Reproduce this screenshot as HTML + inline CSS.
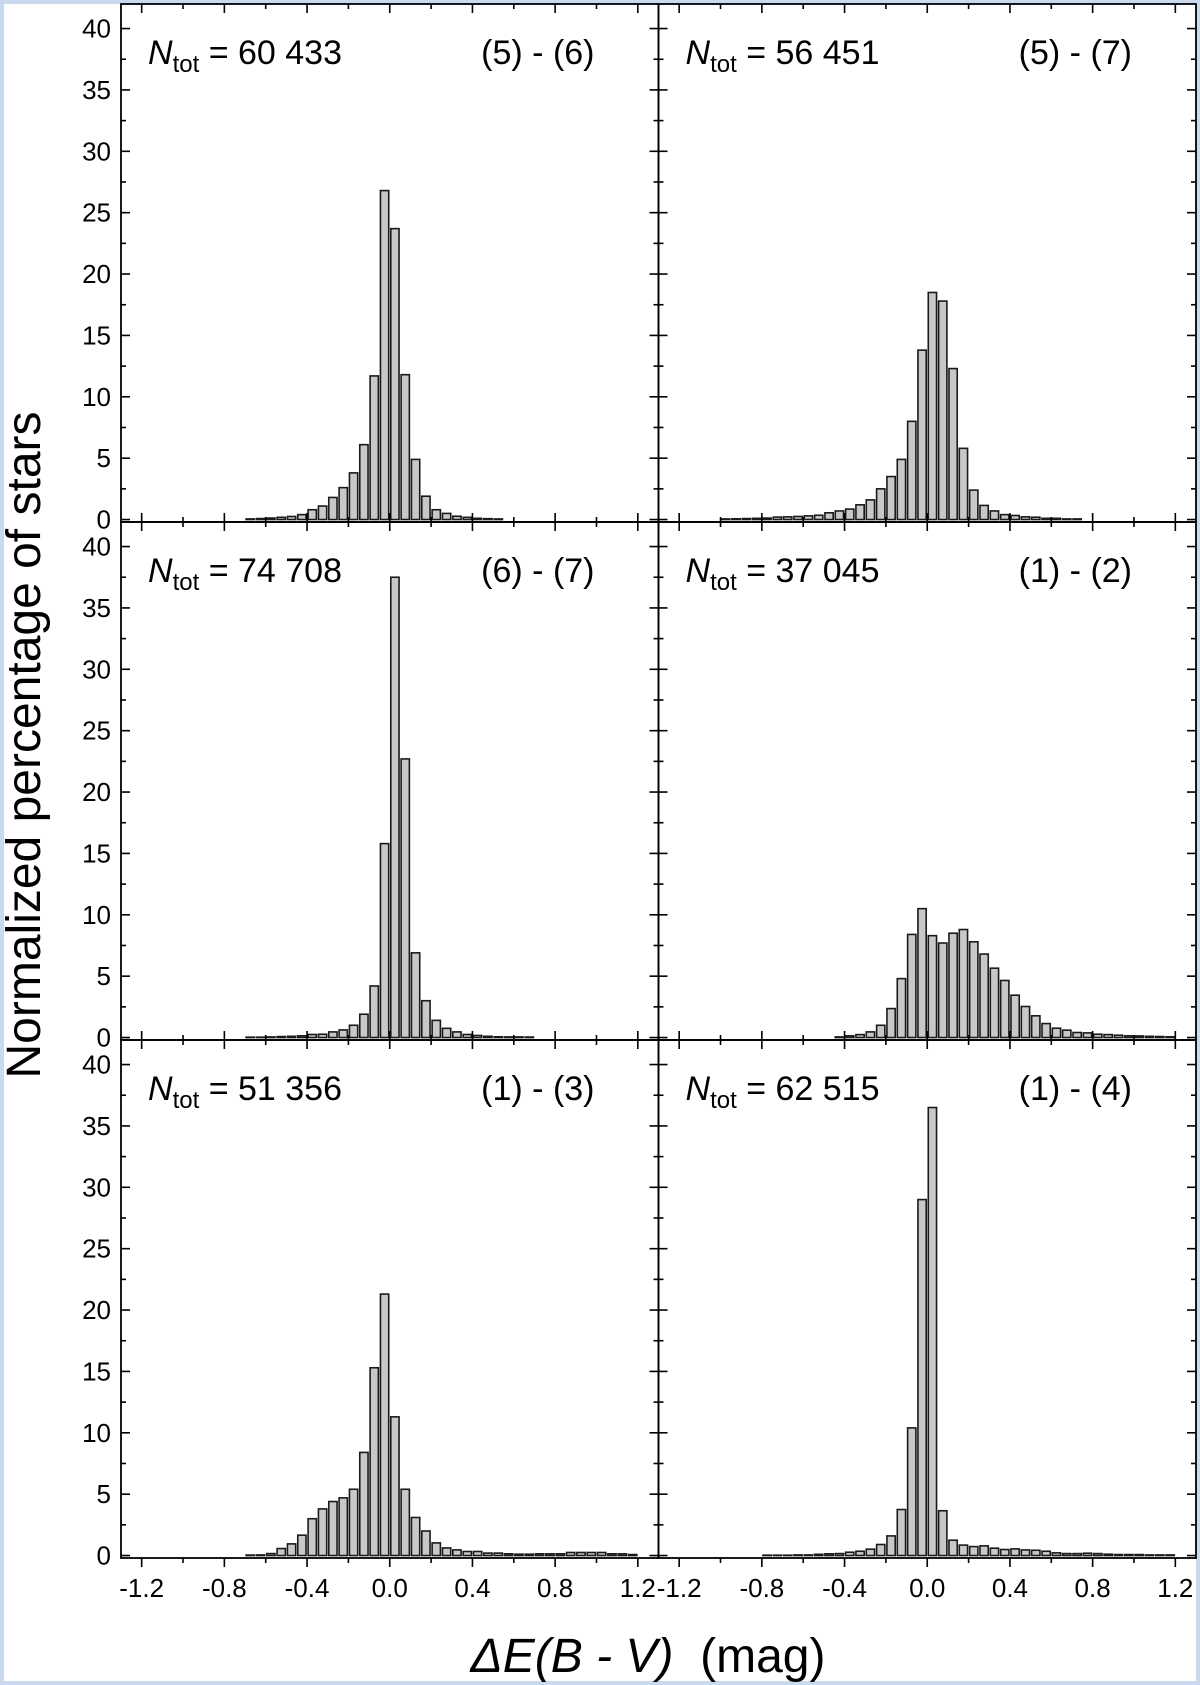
<!DOCTYPE html>
<html><head><meta charset="utf-8"><style>
html,body{margin:0;padding:0;background:#fff}
svg{display:block}
text{font-family:"Liberation Sans",Arial,sans-serif;fill:#000}
</style></head><body>
<svg id="chart" width="1200" height="1685" viewBox="0 0 1200 1685" xmlns="http://www.w3.org/2000/svg">
<rect x="0" y="0" width="1200" height="1685" fill="#fff"/>
<rect x="2" y="2" width="1196" height="1681" fill="none" stroke="#c9d9ef" stroke-width="4"/>
<g id="plots"></g>
<text x="40" y="745" font-size="48" text-anchor="middle" transform="rotate(-90 40 745)">Normalized percentage of stars</text>
<text x="648" y="1672" font-size="48" text-anchor="middle" style="white-space:pre"><tspan font-style="italic">ΔE(B - V)</tspan>  (mag)</text>
</svg>
<script>
const binWidth = 0.05;
const xTickLabels = ["-1.2","-0.8","-0.4","0.0","0.4","0.8","1.2"];
const yTickLabels = ["0","5","10","15","20","25","30","35","40"];
const panelNames = ["(5) - (6)","(5) - (7)","(6) - (7)","(1) - (2)","(1) - (3)","(1) - (4)"];
const panelTotals = ["60 433","56 451","74 708","37 045","51 356","62 515"];
const panelStarts = [-0.675,-0.975,-0.675,-0.425,-0.675,-0.775];
const values56 = [0.05,0.08,0.12,0.18,0.25,0.4,0.8,1.1,1.8,2.6,3.8,6.1,11.7,26.8,23.7,11.8,4.9,1.9,0.8,0.5,0.27,0.18,0.1,0.07,0.05];
const values57 = [0.05,0.06,0.08,0.1,0.12,0.2,0.22,0.25,0.3,0.35,0.55,0.7,0.85,1.2,1.6,2.5,3.5,4.9,8.0,13.8,18.5,17.8,12.3,5.8,2.4,1.15,0.7,0.4,0.33,0.22,0.19,0.1,0.1,0.05,0.05];
const values67 = [0.03,0.03,0.05,0.08,0.1,0.14,0.25,0.27,0.46,0.62,1.0,1.9,4.2,15.8,37.5,22.7,6.9,3.0,1.4,0.75,0.46,0.25,0.17,0.1,0.06,0.05,0.05,0.04];
const values12 = [0.05,0.14,0.24,0.46,1.0,2.36,4.8,8.4,10.5,8.3,7.7,8.5,8.8,7.8,6.8,5.65,4.65,3.45,2.53,1.77,1.14,0.76,0.6,0.41,0.38,0.27,0.24,0.19,0.14,0.13,0.1,0.08,0.06];
const values13 = [0.04,0.05,0.16,0.57,0.95,1.66,3.0,3.8,4.4,4.7,5.4,8.4,15.3,21.3,11.3,5.4,3.1,2.0,1.03,0.62,0.46,0.33,0.33,0.2,0.2,0.14,0.11,0.11,0.14,0.14,0.14,0.25,0.25,0.25,0.25,0.14,0.14,0.08];
const values14 = [0.03,0.03,0.03,0.05,0.05,0.1,0.14,0.16,0.27,0.35,0.52,0.9,1.6,3.75,10.4,29.0,36.5,3.65,1.25,0.85,0.73,0.79,0.6,0.49,0.54,0.46,0.43,0.35,0.22,0.16,0.16,0.19,0.16,0.11,0.08,0.08,0.08,0.05,0.05,0.05];
const panelValues = [values56,values57,values67,values12,values13,values14];

const NS = "http://www.w3.org/2000/svg";
const X0 = 121, PW = 537.5, Y0 = 4, PH = 518;
const xMin = -1.3, xMax = 1.3, yMin = -0.2, yMax = 42.0;
const root = document.getElementById('plots');
function mk(tag, attrs, parent){
  const e = document.createElementNS(NS, tag);
  for (const k in attrs) e.setAttribute(k, attrs[k]);
  parent.appendChild(e);
  return e;
}
for (let p = 0; p < 6; p++) {
  const col = p % 2, row = Math.floor(p / 2);
  const left = X0 + col * PW, top = Y0 + row * PH;
  const sx = v => left + (v - xMin) / (xMax - xMin) * PW;
  const sy = v => top + PH - (v - yMin) / (yMax - yMin) * PH;
  const g = mk('g', {}, root);
  
  
  const vals = panelValues[p];
  for (let i = 0; i < vals.length; i++) {
    const c = panelStarts[p] + i * binWidth;
    const bw = binWidth * 0.8;
    const xa = sx(c - bw / 2), xb = sx(c + bw / 2);
    const r = mk('rect', {x: xa, y: sy(vals[i]), width: xb - xa, height: Math.max(0, sy(0) - sy(vals[i])), fill: '#c8c8c8', stroke: '#1a1a1a', 'stroke-width': 1.6}, g);
    
    
  }
  for (let t = -1.2; t <= 1.21; t += 0.2) {
    const major = Math.abs(Math.round(t * 10) % 4) === 0;
    const L = major ? 9 : 5, x = sx(t);
    mk('line', {x1: x, x2: x, y1: top, y2: top + L, stroke: '#000', 'stroke-width': 1.6}, g);
    if (row === 2) mk('line', {x1: x, x2: x, y1: top + PH, y2: top + PH + L, stroke: '#000', 'stroke-width': 1.6}, g);
    else mk('line', {x1: x, x2: x, y1: top + PH, y2: top + PH - L, stroke: '#000', 'stroke-width': 1.6}, g);
  }
  for (let v = 0; v <= 40; v += 2.5) {
    const major = v % 5 === 0, L = major ? 9 : 5, y = sy(v);
    mk('line', {x1: left, x2: left + L, y1: y, y2: y, stroke: '#000', 'stroke-width': 1.6}, g);
    mk('line', {x1: left + PW, x2: left + PW - L, y1: y, y2: y, stroke: '#000', 'stroke-width': 1.6}, g);
  }
  const frame = mk('rect', {x: left, y: top, width: PW, height: PH, fill: 'none', stroke: '#000', 'stroke-width': 1.8}, g);
  
  
  if (col === 0) {
    for (let k = 0; k < yTickLabels.length; k++) {
      const tl = mk('text', {x: left - 10, y: sy(Number(yTickLabels[k])) + 9, 'font-size': 26, 'text-anchor': 'end'}, g);
      tl.textContent = yTickLabels[k];
      
      
    }
  }
  if (row === 2) {
    for (let k = 0; k < xTickLabels.length; k++) {
      const tl = mk('text', {x: sx(Number(xTickLabels[k])), y: 1597, 'font-size': 26, 'text-anchor': 'middle'}, g);
      tl.textContent = xTickLabels[k];
      
      
    }
  }
  const nt = mk('text', {x: left + 27, y: top + 60, 'font-size': 34}, g);
  
  
  const n1 = mk('tspan', {'font-style': 'italic'}, nt); n1.textContent = 'N';
  const n2 = mk('tspan', {'font-size': 24, dy: 8}, nt); n2.textContent = 'tot';
  const n3 = mk('tspan', {dy: -8}, nt); n3.textContent = ' = ' + panelTotals[p];
  const pn = mk('text', {x: left + PW - 64, y: top + 60, 'font-size': 34, 'text-anchor': 'end'}, g);
  pn.textContent = panelNames[p];
  
  
}
</script>
</body></html>
